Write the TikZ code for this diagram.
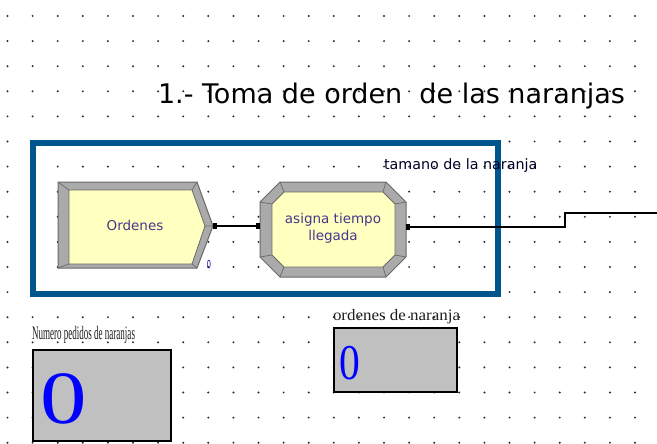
\documentclass[tikz,border=0pt]{standalone}
\usepackage{fontspec}
\usepackage{graphicx}
\setmainfont{DejaVu Sans}
\newfontfamily\serifff{Liberation Serif}
\usetikzlibrary{arrows.meta}
\definecolor{gridc}{RGB}{45,45,45}
\definecolor{boxblue}{RGB}{0,85,140}
\definecolor{modfill}{RGB}{255,255,192}
\definecolor{bevel}{RGB}{170,170,170}
\definecolor{beveldark}{RGB}{105,105,105}
\definecolor{modtext}{RGB}{70,55,140}
\definecolor{dispfill}{RGB}{192,192,192}
\definecolor{digit}{RGB}{0,0,255}
\definecolor{lbltext}{RGB}{35,30,30}
\tikzset{
  gdot/.style={fill=gridc},
  bevelshape/.style={fill=bevel, draw=beveldark, line width=1pt, line join=miter},
  innershape/.style={fill=modfill, draw=beveldark, line width=0.8pt},
  facet/.style={draw=beveldark, line width=0.7pt},
  modlabel/.style={font=\fontsize{13.5}{17}\selectfont, text=modtext, align=center},
  display/.style={draw=black, line width=2.2pt, fill=dispfill},
  conn/.style={draw=black, line width=1.8pt},
  sqtip/.tip={Square[length=4pt,width=6pt]}
}
\begin{document}
\begin{tikzpicture}[x=1pt,y=-1pt, every node/.style={inner sep=0pt, outer sep=0pt}]
\useasboundingbox (0,0) rectangle (657,444);
\fill[white] (0,0) rectangle (657,444);
% dot grid
\foreach \i in {0,...,25}{
  \foreach \j in {0,...,17}{
    \fill[gdot] (7.5+25.1*\i, 16+25.1*\j) circle (1.1pt);
  }
}
% title
\node[anchor=base west, font=\fontsize{27}{32}\selectfont, text=black] (title) at (158,103) {1.- Toma de orden\ \ de las naranjas};
% blue frame
\node[draw=boxblue, line width=5.5pt, minimum width=465pt, minimum height=151pt] (frame) at (265.5,218.5) {};
% Ordenes module (create)
\path[bevelshape] (58,182) -- (197,182) -- (213,226) -- (197,268) -- (58,268) -- cycle;
\path[innershape] (69,190) -- (192,190) -- (205,226) -- (192,264) -- (69,264) -- cycle;
\draw[facet] (58,182) -- (69,190) (58,268) -- (69,264) (197,182) -- (192,190) (197,268) -- (192,264) (213,226) -- (205,226);
\node[modlabel] (ordenes) at (135,225) {Ordenes};
\coordinate (ordOut) at (213,226);
\node[anchor=base, font=\fontsize{11}{12}\selectfont, text=digit!70!black] (ordCount) at (209,268) {\scalebox{0.6}[1]{0}};
% asigna module (assign)
\path[bevelshape] (280,182) -- (386,182) -- (406,202) -- (406,257) -- (386,277) -- (280,277) -- (260,257) -- (260,202) -- cycle;
\path[innershape] (284,192) -- (383,192) -- (395,204) -- (395,255) -- (383,267) -- (284,267) -- (272,255) -- (272,204) -- cycle;
\draw[facet] (280,182) -- (284,192) (386,182) -- (383,192) (406,202) -- (395,204) (406,257) -- (395,255)
  (386,277) -- (383,267) (280,277) -- (284,267) (260,257) -- (272,255) (260,202) -- (272,204);
\node[modlabel] (asigna) at (333,228) {asigna tiempo\\llegada};
\coordinate (asgIn) at (260,226);
\coordinate (asgOut) at (406,227);
% connectors
\draw[conn, sqtip-sqtip] (ordOut) -- (asgIn);
\coordinate (exitEnd) at (657,213);
\draw[conn, sqtip-] (asgOut) -- (565,227) |- (exitEnd);
% label above line
\node[anchor=west, font=\fontsize{14.3}{17}\selectfont, text=black!85!blue] (tamano) at (384,166) {tamano de la naranja};
% displays
\node[display, minimum width=137.7pt, minimum height=91pt] (disp1) at (102,395.5) {};
\node[anchor=base west, font=\serifff\fontsize{19}{20}\selectfont, text=lbltext] (disp1lbl) at (32,339) {\scalebox{0.475}[1]{Numero pedidos de naranjas}};
\node[anchor=base west, font=\serifff\fontsize{75}{80}\selectfont, text=digit] (disp1val) at (40.5,423) {\scalebox{1.24}[1]{0}};
\node[display, minimum width=123pt, minimum height=64pt] (disp2) at (395.5,360) {};
\node[anchor=base west, font=\serifff\fontsize{16}{18}\selectfont, text=lbltext] (disp2lbl) at (333,320) {\scalebox{1.06}[1]{ordenes de naranja}};
\node[anchor=base west, font=\serifff\fontsize{50}{55}\selectfont, text=digit] (disp2val) at (339.7,379) {\scalebox{0.83}[1]{0}};
\end{tikzpicture}
\end{document}
